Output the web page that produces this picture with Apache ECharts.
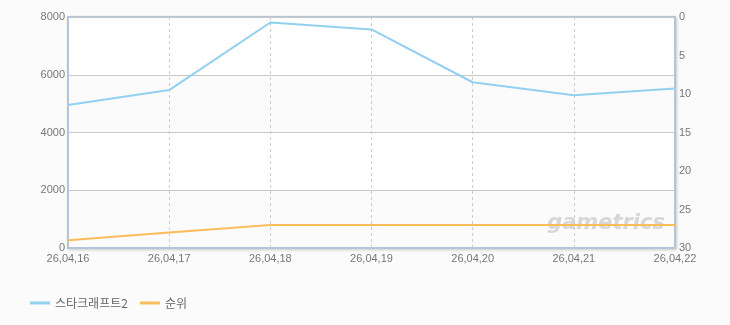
<!DOCTYPE html>
<html><head><meta charset="utf-8">
<script src="https://cdn.jsdelivr.net/npm/echarts@6/dist/echarts.min.js"></script>
<style>html,body{margin:0;padding:0;background:#fbfbfb}#c{width:730px;height:325px}</style>
</head><body><div id="c"></div>
<script>
const categories = ['26,04,16','26,04,17','26,04,18','26,04,19','26,04,20','26,04,21','26,04,22'];
const viewers = [4950, 5470, 7810, 7570, 5740, 5290, 5520];
const rank = [29, 28, 27, 27, 27, 27, 27];
const seriesNames = ['스타크래프트2', '순위'];
const font = '"Liberation Sans", "Noto Sans CJK KR", sans-serif';
const chart = echarts.init(document.getElementById('c'));
const axisCol = '#b3c5d7';
chart.setOption({
  backgroundColor: '#fbfbfb',
  animation: false,
  grid: { left: 68, right: 55, top: 17, bottom: 77, show: true, borderColor: axisCol, borderWidth: 2,
    shadowColor: 'rgba(0,0,0,0.15)', shadowBlur: 3, shadowOffsetX: 1, shadowOffsetY: 1, backgroundColor: '#fff' },
  legend: { left: 25, top: 292, itemWidth: 20, itemHeight: 3, itemGap: 12, icon: 'rect',
    textStyle: { color: '#666', fontSize: 12, fontFamily: '"Noto Sans CJK KR", sans-serif' },
    data: seriesNames },
  graphic: [{ type: 'text', right: 65, top: 213, z: 1,
    style: { text: 'gametrics', font: 'italic bold 21px "DejaVu Sans", sans-serif', fill: 'rgba(185,185,185,0.55)' } }],
  xAxis: { type: 'category', data: categories, boundaryGap: false,
    axisLine: { lineStyle: { color: axisCol, width: 2 } }, axisTick: { show: false },
    axisLabel: { color: '#777', fontSize: 11, fontFamily: font, margin: 5 },
    splitLine: { show: true, lineStyle: { color: '#ccc', type: [3, 3], width: 1 } } },
  yAxis: [
    { type: 'value', min: 0, max: 8000, interval: 2000,
      axisLine: { show: true, lineStyle: { color: axisCol, width: 2 } }, axisTick: { show: false },
      axisLabel: { color: '#777', fontSize: 11, fontFamily: font, margin: 3, formatter: v => String(v) },
      splitLine: { lineStyle: { color: '#c8c8c8' } },
      splitArea: { show: true, areaStyle: { color: ['#fbfbfb', '#ffffff'] } } },
    { type: 'value', min: 0, max: 30, interval: 5, inverse: true, position: 'right',
      axisLine: { show: true, lineStyle: { color: axisCol, width: 2 } }, axisTick: { show: false },
      axisLabel: { color: '#777', fontSize: 11, fontFamily: font, margin: 4 },
      splitLine: { show: false } }
  ],
  series: [
    { name: seriesNames[0], type: 'line', data: viewers, yAxisIndex: 0, symbol: 'none',
      lineStyle: { color: '#92d0f0', width: 2 }, itemStyle: { color: '#92d0f0' } },
    { name: seriesNames[1], type: 'line', data: rank, yAxisIndex: 1, symbol: 'none',
      lineStyle: { color: '#fbbd5b', width: 2 }, itemStyle: { color: '#fbbd5b' } }
  ]
});
</script></body></html>
